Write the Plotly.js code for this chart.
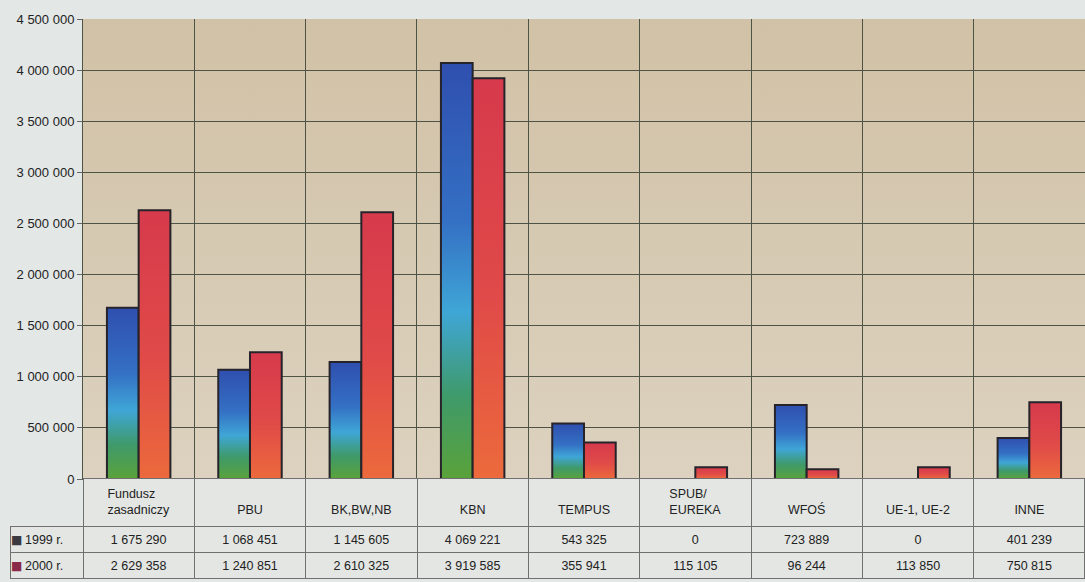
<!DOCTYPE html>
<html>
<head>
<meta charset="utf-8">
<script src="https://cdn.plot.ly/plotly-3.0.1.min.js"></script>
<style>html,body{margin:0;padding:0;background:#e3e7e6;}#chart{width:1085px;height:582px;}</style>
</head>
<body>
<div id="chart"></div>
<script>
// ---- data ----
const categories = ["Fundusz<br>zasadniczy", "PBU", "BK,BW,NB", "KBN", "TEMPUS", "SPUB/<br>EUREKA", "WFOŚ", "UE-1, UE-2", "INNE"];
const seriesNames = ["1999 r.", "2000 r."];
const values1999 = [1675290, 1068451, 1145605, 4069221, 543325, 0, 723889, 0, 401239];
const values2000 = [2629358, 1240851, 2610325, 3919585, 355941, 115105, 96244, 113850, 750815];
const yTicks = [0, 500000, 1000000, 1500000, 2000000, 2500000, 3000000, 3500000, 4000000, 4500000];
const keyColors = ["#3a3a40", "#8a2a48"];

function fmt(v) { return String(v).replace(/\B(?=(\d{3})+(?!\d))/g, ' '); }

const font = "Liberation Sans, Arial, sans-serif";
const gridCol = "#4d5445";
const tableLine = "#707070";
const cellBg = "#e3e6e3";

const barOutline = { color: "#26242a", width: 2 };

const traces = [
  { type: "bar", name: seriesNames[0], x: categories, y: values1999,
    marker: { color: "#3a7cc8", line: barOutline }, xaxis: "x", yaxis: "y" },
  { type: "bar", name: seriesNames[1], x: categories, y: values2000,
    marker: { color: "#e04a44", line: barOutline }, xaxis: "x", yaxis: "y" }
];

// table below the plot, built from the same arrays
// single-line labels get an empty first line so they sit mid-cell like the two-line ones
const headerVals = [""].concat(categories.map(c => (/<br>/i.test(c) ? c : " <br>" + c)));
const cellVals = [seriesNames.map(() => "")];
for (let i = 0; i < categories.length; i++) {
  cellVals.push([fmt(values1999[i]), fmt(values2000[i])]);
}
const colW = [73].concat(categories.map(() => 111.33));
const headerLineCols = ["rgba(0,0,0,0)"].concat(categories.map(() => tableLine));
const aligns = ["left"].concat(categories.map(() => "center"));

traces.push({
  type: "table",
  domain: { x: [0, 1], y: [0, 0.1815] },
  columnwidth: colW,
  header: {
    values: headerVals,
    align: "center",
    height: 48,
    fill: { color: ["rgba(0,0,0,0)"].concat(categories.map(() => cellBg)) },
    line: { color: headerLineCols, width: 1 },
    font: { family: font, size: 12.5, color: "#222" }
  },
  cells: {
    values: cellVals,
    align: aligns,
    height: 26,
    fill: { color: cellBg },
    line: { color: tableLine, width: 1 },
    font: { family: font, size: 12.5, color: "#222" }
  }
});

// legend keys and series labels in the table's first column
const annotations = [];
seriesNames.forEach((s, i) => {
  const yy = (581 - (540 + i * 26)) / 562;
  annotations.push({
    xref: "paper", yref: "paper", x: (16 - 10) / 1075, y: yy,
    xanchor: "center", yanchor: "middle", text: "■", showarrow: false,
    font: { family: "DejaVu Sans", size: 12, color: keyColors[i] }
  });
  annotations.push({
    xref: "paper", yref: "paper", x: (23 - 10) / 1075, y: yy,
    xanchor: "left", yanchor: "middle", text: s, showarrow: false,
    font: { family: font, size: 12.5, color: "#222" }
  });
});

const layout = {
  width: 1085, height: 582,
  margin: { l: 10, r: 0, t: 19, b: 1, pad: 0 },
  paper_bgcolor: "#e3e7e6",
  plot_bgcolor: "#d5c7ae",
  showlegend: false,
  separators: ", ",
  barmode: "group",
  bargap: 0.43,
  bargroupgap: 0,
  font: { family: font, size: 12, color: "#222" },
  annotations: annotations,
  xaxis: {
    domain: [0.0679, 1],
    type: "category",
    tickson: "boundaries",
    showticklabels: false,
    ticks: "",
    showgrid: true, gridcolor: gridCol, gridwidth: 1,
    showline: true, linecolor: gridCol, linewidth: 1, mirror: false,
    fixedrange: true
  },
  yaxis: {
    domain: [0.1815, 1],
    range: [0, 4500000],
    tickvals: yTicks,
    tickformat: ",d",
    ticks: "outside", ticklen: 5, tickcolor: "#666",
    tickfont: { family: font, size: 13, color: "#222" },
    showgrid: true, gridcolor: gridCol, gridwidth: 1,
    zeroline: false,
    showline: true, linecolor: gridCol, linewidth: 1, mirror: false,
    fixedrange: true
  }
};

const gd = document.getElementById("chart");
Plotly.newPlot(gd, traces, layout, { staticPlot: true, displayModeBar: false }).then(function () {
  const ns = "http://www.w3.org/2000/svg";
  const svg = gd.querySelector("svg.main-svg");
  let defs = svg.querySelector("defs");
  if (!defs) { defs = document.createElementNS(ns, "defs"); svg.insertBefore(defs, svg.firstChild); }
  function addGrad(id, stops) {
    const g = document.createElementNS(ns, "linearGradient");
    g.setAttribute("id", id);
    g.setAttribute("x1", "0"); g.setAttribute("y1", "0");
    g.setAttribute("x2", "0"); g.setAttribute("y2", "1");
    stops.forEach(s => {
      const st = document.createElementNS(ns, "stop");
      st.setAttribute("offset", s[0]);
      st.setAttribute("stop-color", s[1]);
      g.appendChild(st);
    });
    defs.appendChild(g);
  }
  addGrad("grad0", [["0", "#2f4fae"], ["0.38", "#3470c4"], ["0.6", "#3fa6d6"], ["0.8", "#3f9a6a"], ["1", "#5aa23a"]]);
  addGrad("grad1", [["0", "#d63a4c"], ["0.55", "#e04a48"], ["1", "#ec6a3c"]]);
  addGrad("gradbg", [["0", "#d1c1a6"], ["1", "#dcd2bf"]]);
  gd.querySelectorAll(".barlayer .trace").forEach(function (tr, i) {
    tr.querySelectorAll("path").forEach(function (p) { p.style.fill = "url(#grad" + i + ")"; });
  });
  const bg = gd.querySelector(".bglayer .bg");
  if (bg) bg.style.fill = "url(#gradbg)";
});
</script>
</body>
</html>
